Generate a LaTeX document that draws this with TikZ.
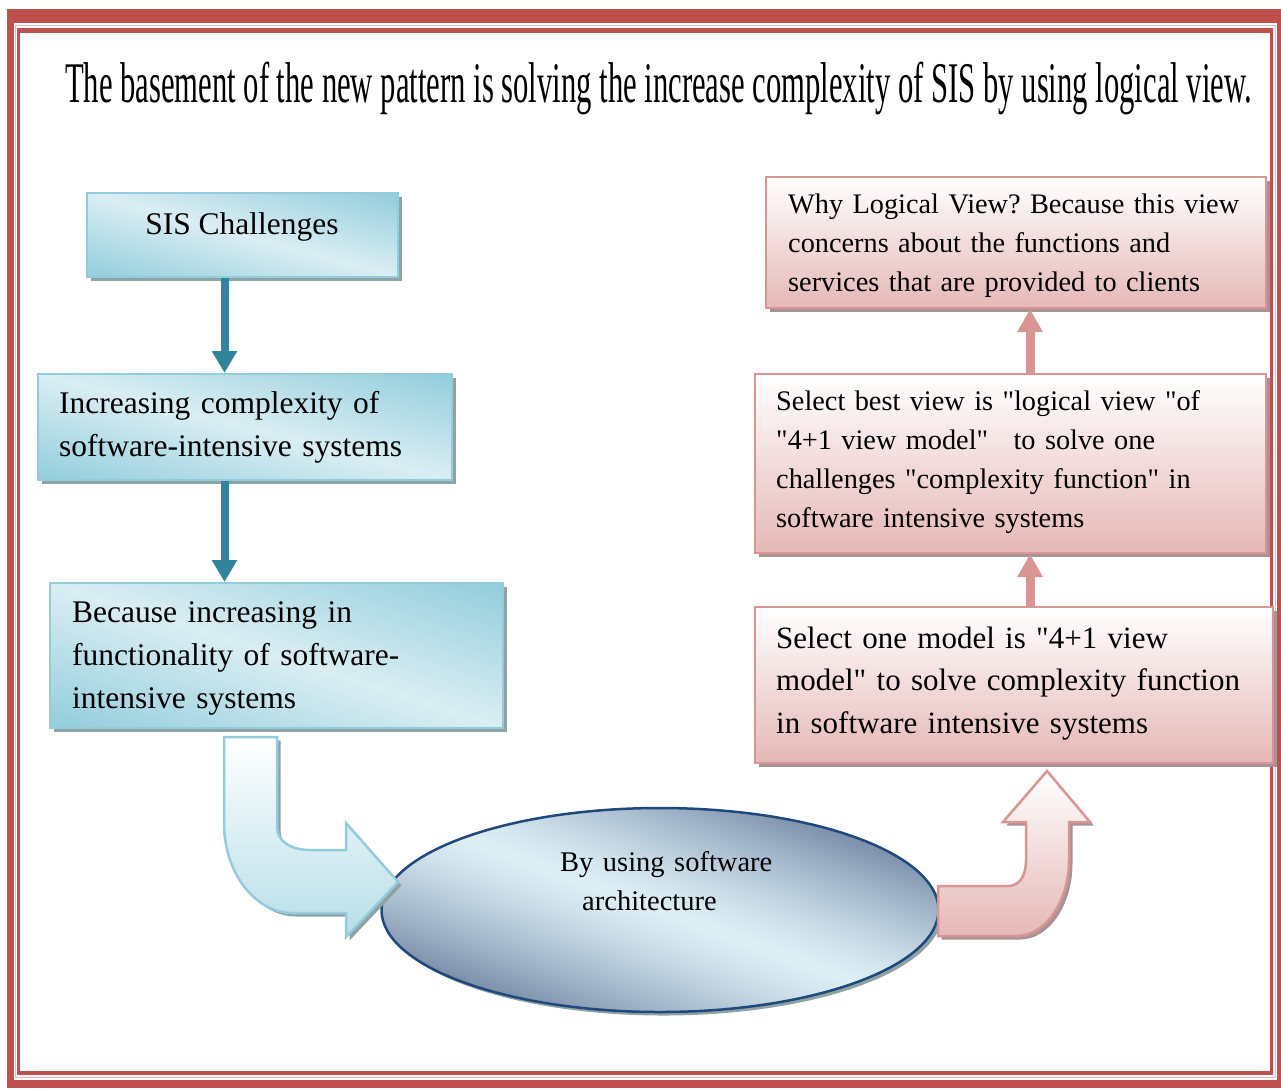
\documentclass[tikz,border=0pt]{standalone}
\usepackage{fontspec}
\setmainfont{Liberation Serif}
\usetikzlibrary{shapes.geometric,shadows,arrows.meta}

\definecolor{frameRed}{HTML}{C0504D}
\definecolor{framePink}{HTML}{E6B9B8}
\definecolor{blueEdge}{HTML}{93CDDD}
\definecolor{tealArrow}{HTML}{31849B}
\definecolor{pinkEdge}{HTML}{D99594}
\definecolor{pinkFill}{HTML}{E5B8B7}
\definecolor{ellEdge}{HTML}{1F497D}
\definecolor{shadowBlue}{HTML}{8FA3A6}
\definecolor{shadowRed}{HTML}{A89394}
\definecolor{bendBlue}{HTML}{B7DEE8}

% diagonal band shadings: light along the top-left/bottom-right diagonal,
% darker towards the bottom-left and top-right corners
\pgfdeclarefunctionalshading{boxdiag}{\pgfpoint{0bp}{0bp}}{\pgfpoint{100bp}{100bp}}{}{
  50 sub 25 div exch 50 sub 25 div add abs 2 div
  dup 1 gt {pop 1} if
  dup dup
  0.573 0.855 sub mul 0.855 add
  3 1 roll
  0.804 0.933 sub mul 0.933 add
  exch
  0.863 0.953 sub mul 0.953 add
}
\pgfdeclarefunctionalshading{elldiag}{\pgfpoint{0bp}{0bp}}{\pgfpoint{100bp}{100bp}}{}{
  50 sub 25 div exch 50 sub 25 div add abs 1.4 div
  dup 1 gt {pop 1} if
  1.3 exp
  dup dup
  0.490 0.867 sub mul 0.867 add
  3 1 roll
  0.565 0.937 sub mul 0.937 add
  exch
  0.675 0.961 sub mul 0.961 add
}

\newcommand\bigtxt{\fontsize{31.5}{43}\selectfont}
\newcommand\midtxt{\fontsize{31}{42.5}\selectfont}
\newcommand\smalltxt{\fontsize{28.3}{39}\selectfont}
% straight double quote, set as a glyph so no ligature mapping applies
\newcommand\dq{\XeTeXglyph\XeTeXcharglyph"22\relax}

\tikzset{
  x=1pt, y=-1pt,
  blueshadow/.style={drop shadow={shadow xshift=3.5pt, shadow yshift=-3.5pt, fill=shadowBlue, opacity=1}},
  redshadow/.style={drop shadow={shadow xshift=3.5pt, shadow yshift=-3.5pt, fill=shadowRed, opacity=1}},
  bluebox/.style={rectangle, inner sep=0pt, draw=blueEdge, line width=2pt,
    shading=boxdiag, blueshadow},
  pinkbox/.style={rectangle, inner sep=0pt, draw=pinkEdge, line width=2pt,
    top color=white, bottom color=pinkFill, redshadow},
  boxtext/.style={anchor=base west, inner sep=0pt, align=left, text width=#1},
  downarrow/.style={draw=tealArrow, line width=8pt, -{Triangle[width=24pt,length=22pt]}},
  uparrow/.style={draw=pinkEdge, line width=9pt, -{Triangle[width=24pt,length=23pt]}},
  bluebend/.style={draw=blueEdge, line width=2.5pt, line join=miter,
    top color=white, bottom color=bendBlue, blueshadow},
  pinkbend/.style={draw=pinkEdge, line width=2.5pt, line join=miter,
    top color=white, bottom color=pinkFill, redshadow},
}

\begin{document}
\frenchspacing
\begin{tikzpicture}
\useasboundingbox (0,0) rectangle (1281,1088);

% double red frame
\fill[frameRed] (7,9) rectangle (1281,1088);
\fill[white] (14,23) rectangle (1277,1080);
\draw[framePink, line width=1pt] (15.5,25.5) rectangle (1275.5,1077.5);
\fill[frameRed] (17,28) rectangle (1273,1075);
\fill[white] (20,33) rectangle (1270,1071);

% heading
\node[anchor=base, inner sep=0pt] (title) at (658.5,102)
  {\resizebox{1187pt}{\height}{\fontsize{57.5}{60}\selectfont The basement of the new pattern is solving the increase complexity of SIS by using logical view.}};

% left column
\node[bluebox, minimum width=311pt, minimum height=84pt] (b1) at (242.5,235) {};
\node[bluebox, minimum width=414pt, minimum height=106pt] (b2) at (245,427) {};
\node[bluebox, minimum width=453pt, minimum height=145pt] (b3) at (276.5,655.5) {};

% right column
\node[pinkbox, minimum width=500pt, minimum height=131pt] (r1) at (1016,242.5) {};
\node[pinkbox, minimum width=511pt, minimum height=179pt] (r2) at (1010.5,463.5) {};
\node[pinkbox, minimum width=518pt, minimum height=156pt] (r3) at (1014,685) {};

% straight connectors
\coordinate (dx) at (224.5,0);
\coordinate (ux) at (1030,0);
\draw[downarrow] (dx |- b1.south) -- (dx |- b2.north);
\draw[downarrow] (dx |- b2.south) -- (dx |- b3.north);
\draw[uparrow] (ux |- r3.north) -- (ux |- r2.south);
\draw[uparrow] (ux |- r2.north) -- (ux |- r1.south);

% central ellipse
\node[ellipse, draw=ellEdge, line width=2.5pt, inner sep=0pt,
      minimum width=557pt, minimum height=204pt,
      shading=elldiag, blueshadow] (ell) at (660,910) {};

% bent block arrows
\path[bluebend] (224,737) -- (277,737) -- (277,827)
  .. controls (277,842) and (292,850) .. (310,850) -- (346,850) -- (346,823)
  -- (398,882) -- (346,937) -- (346,913) -- (293,913)
  .. controls (255,913) and (224,873) .. (224,823) -- cycle;
\path[pinkbend] (938,886) -- (1008,886)
  .. controls (1018,886) and (1026,878) .. (1026,860) -- (1026,822) -- (1003,822)
  -- (1047,771) -- (1090,822) -- (1069,822) -- (1069,860)
  .. controls (1069,902) and (1045,936) .. (1017,936) -- (938,936) -- cycle;

% texts
\node[anchor=base, inner sep=0pt, font=\bigtxt] (t1) at (242,234) {SIS Challenges};
\node[boxtext=420pt, font=\bigtxt] (t2) at (59,413)
  {Increasing complexity of\\software-intensive systems};
\node[boxtext=440pt, font=\bigtxt] (t3) at (72,622)
  {Because increasing in\\functionality of software-\\intensive systems};
\node[boxtext=480pt, font=\smalltxt] (t4) at (788,213)
  {Why Logical View? Because this view\\concerns about the functions and\\services that are provided to clients};
\node[boxtext=490pt, font=\smalltxt] (t5) at (776,410)
  {Select best view is \dq logical view \dq of\\\dq 4+1 view model\dq\hspace{16pt} to solve one\\challenges \dq complexity function\dq{} in\\software intensive systems};
\node[boxtext=500pt, font=\midtxt] (t6) at (776,648)
  {Select one model is \dq 4+1 view\\model\dq{} to solve complexity function\\in software intensive systems};
\node[boxtext=300pt, font=\fontsize{28.5}{39}\selectfont] (t7) at (560,871)
  {By using software\\\hspace*{22pt}architecture};
\end{tikzpicture}
\end{document}
